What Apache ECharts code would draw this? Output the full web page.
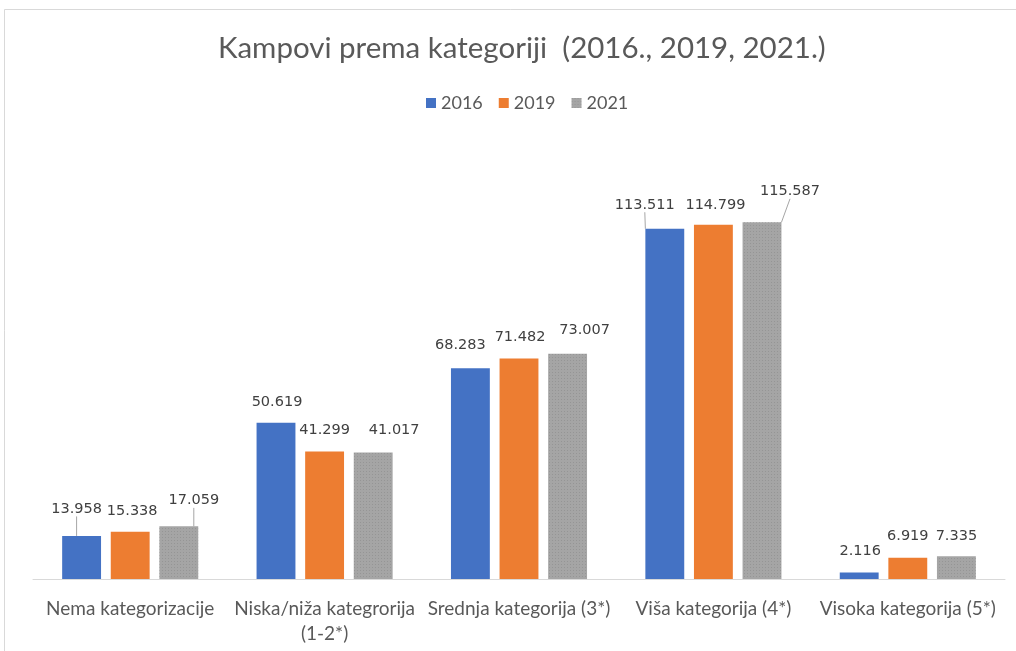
<!DOCTYPE html>
<html>
<head>
<meta charset="utf-8">
<script src="https://cdn.jsdelivr.net/npm/echarts@6/dist/echarts.min.js"></script>
<style>html,body{margin:0;padding:0;background:#fff}#c{width:1016px;height:651px}</style>
</head>
<body>
<div id="c"></div>
<script>
var categories = ['Nema kategorizacije', 'Niska/niža kategrorija\n(1-2*)', 'Srednja kategorija (3*)', 'Viša kategorija (4*)', 'Visoka kategorija (5*)'];
var seriesNames = ['2016', '2019', '2021'];
var values2016 = [13958, 50619, 68283, 113511, 2116];
var values2019 = [15338, 41299, 71482, 114799, 6919];
var values2021 = [17059, 41017, 73007, 115587, 7335];

var colors = ['#4472C4', '#ED7D31', '#A5A5A5'];
// label offsets relative to bar top-center: [dx, dy above]
var labelOffsets = [
  [[-5, 27], [1, 21], [-10, 23], [-20, 24], [1, 21]],
  [[2, 20], [0, 21], [1, 21], [2, 20], [0, 21]],
  [[15, 26], [21, 22], [17, 23], [28, 31], [0, 20]]
];
var leaderLines = [
  [true, false, false, true, false],
  [false, false, false, false, false],
  [true, false, false, true, false]
];

function fmt(v) {
  return String(v).replace(/\B(?=(\d{3})+(?!\d))/g, '.');
}

var chart = echarts.init(document.getElementById('c'));
var all = [values2016, values2019, values2021];
var series = all.map(function (vals, si) {
  return {
    name: seriesNames[si],
    type: 'bar',
    barCategoryGap: '30%',
    barGap: '25%',
    itemStyle: si === 2 ? {
      color: colors[si],
      decal: {symbol: 'rect', symbolSize: 0.8, color: 'rgba(125,125,125,0.45)', dashArrayX: [[1, 2]], dashArrayY: [1, 2], rotation: 0}
    } : {color: colors[si], decal: {symbol: 'rect', color: 'rgba(0,0,0,0)', symbolSize: 0.1}},
    data: vals.map(function (v, i) {
      return {value: v, labelLine: {show: leaderLines[si][i]}};
    }),
    label: {
      show: true,
      position: 'top',
      formatter: function (p) { return fmt(p.value); },
      fontFamily: 'DejaVu Sans',
      fontSize: 14.5,
      color: '#404040'
    },
    labelLine: {lineStyle: {color: '#A6A6A6', width: 1}},
    labelLayout: function (p) {
      var off = labelOffsets[si][p.dataIndex];
      return {
        x: p.rect.x + p.rect.width / 2 + off[0],
        y: p.rect.y - off[1],
        align: 'center',
        verticalAlign: 'middle'
      };
    }
  };
});

chart.setOption({
  backgroundColor: '#fff',
  animation: false,
  aria: {enabled: true, decal: {show: true}},
  title: {
    text: 'Kampovi prema kategoriji  (2016., 2019, 2021.)',
    left: 213,
    top: 28,
    textStyle: {fontFamily: 'Lato', fontSize: 29.5, fontWeight: 'normal', color: '#595959'}
  },
  legend: {
    top: 89,
    left: 421,
    itemWidth: 10,
    itemHeight: 10,
    itemGap: 16,
    icon: 'rect',
    textStyle: {fontFamily: 'Lato', fontSize: 18, color: '#595959'},
    data: seriesNames
  },
  graphic: [{
    type: 'rect',
    shape: {x: 4.5, y: 9.5, width: 1100, height: 700},
    style: {fill: 'none', stroke: '#D9D9D9', lineWidth: 1},
    silent: true
  }],
  grid: {left: 33, right: 11, top: 147, bottom: 72},
  xAxis: {
    type: 'category',
    data: categories,
    axisTick: {show: false},
    axisLine: {lineStyle: {color: '#D9D9D9', width: 1}},
    axisLabel: {
      interval: 0,
      margin: 17,
      fontFamily: 'Lato',
      fontSize: 19,
      lineHeight: 25,
      color: '#595959'
    }
  },
  yAxis: {
    type: 'value',
    min: 0,
    max: 140000,
    show: false,
    splitLine: {show: false}
  },
  series: series
});
</script>
</body>
</html>
